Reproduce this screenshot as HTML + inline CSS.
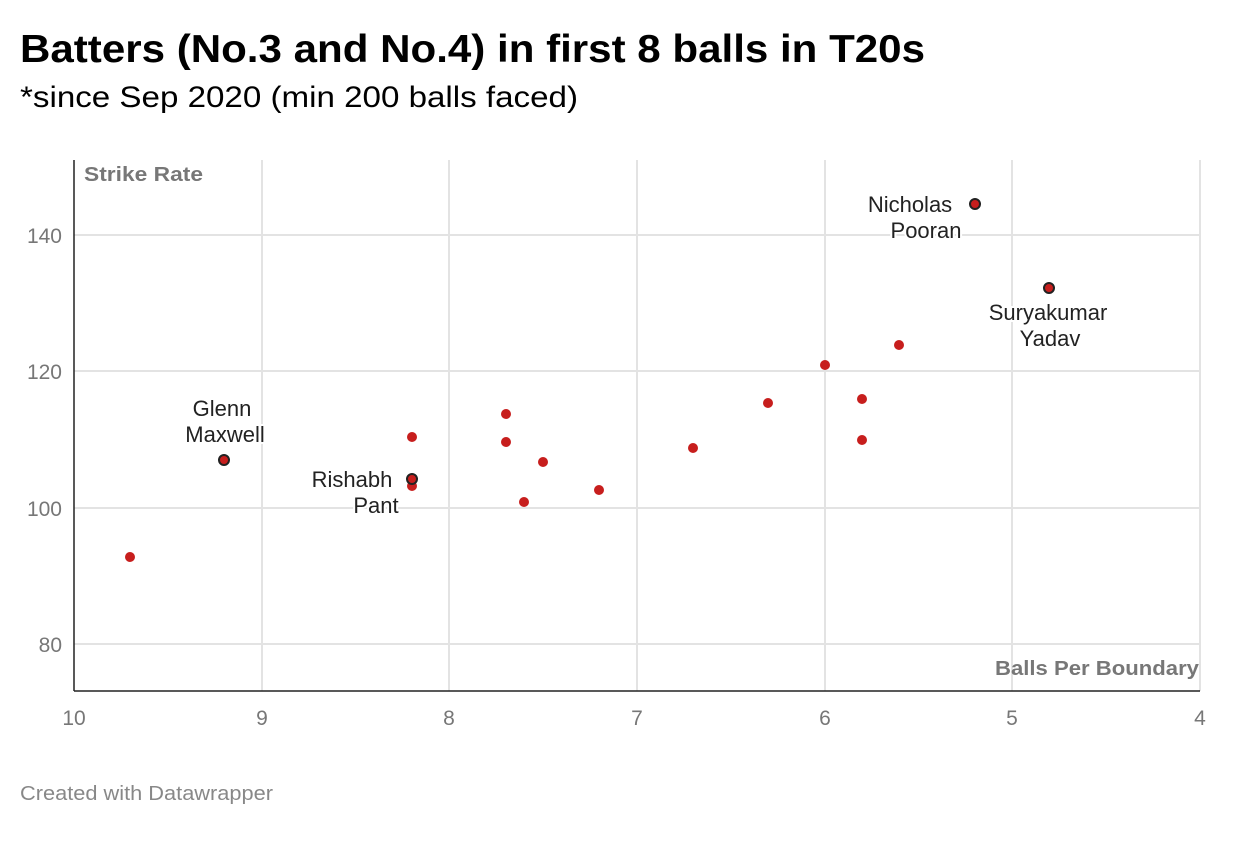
<!DOCTYPE html>
<html><head><meta charset="utf-8"><style>
body{margin:0;background:#fff;width:1240px;height:840px;overflow:hidden;font-family:"Liberation Sans",Roboto,sans-serif}
</style></head><body>
<svg width="1240" height="840" xmlns="http://www.w3.org/2000/svg" font-family="Liberation Sans, sans-serif">
<text x="20" y="62" font-size="39" font-weight="bold" fill="#000" textLength="905" lengthAdjust="spacingAndGlyphs">Batters (No.3 and No.4) in first 8 balls in T20s</text>
<text x="20" y="107" font-size="30" fill="#000" textLength="558" lengthAdjust="spacingAndGlyphs">*since Sep 2020 (min 200 balls faced)</text>
<g stroke="#e3e3e3" stroke-width="2">
<line x1="74" y1="235" x2="1200" y2="235"/><line x1="74" y1="371" x2="1200" y2="371"/>
<line x1="74" y1="508" x2="1200" y2="508"/><line x1="74" y1="644" x2="1200" y2="644"/>
<line x1="262" y1="160" x2="262" y2="691"/><line x1="449" y1="160" x2="449" y2="691"/>
<line x1="637" y1="160" x2="637" y2="691"/><line x1="825" y1="160" x2="825" y2="691"/>
<line x1="1012" y1="160" x2="1012" y2="691"/><line x1="1200" y1="160" x2="1200" y2="691"/>
</g>
<line x1="74" y1="160" x2="74" y2="691" stroke="#222" stroke-width="1.5"/>
<line x1="74" y1="691" x2="1200" y2="691" stroke="#222" stroke-width="1.5"/>
<g font-size="21" fill="#777" text-anchor="end">
<text x="62" y="243">140</text><text x="62" y="379">120</text><text x="62" y="516">100</text><text x="62" y="652">80</text>
</g>
<g font-size="21" fill="#777" text-anchor="middle">
<text x="74" y="725">10</text><text x="262" y="725">9</text><text x="449" y="725">8</text><text x="637" y="725">7</text><text x="825" y="725">6</text><text x="1012" y="725">5</text><text x="1200" y="725">4</text>
</g>
<text x="84" y="181" font-size="20" font-weight="bold" fill="#777" textLength="119" lengthAdjust="spacingAndGlyphs">Strike Rate</text>
<text x="995" y="675" font-size="20" font-weight="bold" fill="#777" textLength="204" lengthAdjust="spacingAndGlyphs">Balls Per Boundary</text>
<g fill="#c71e1d">
<circle cx="130" cy="557" r="5"/><circle cx="412" cy="437" r="5"/><circle cx="412" cy="486" r="5"/>
<circle cx="506" cy="414" r="5"/><circle cx="506" cy="442" r="5"/><circle cx="543" cy="462" r="5"/>
<circle cx="524" cy="502" r="5"/><circle cx="599" cy="490" r="5"/><circle cx="693" cy="448" r="5"/>
<circle cx="768" cy="403" r="5"/><circle cx="825" cy="365" r="5"/><circle cx="862" cy="399" r="5"/>
<circle cx="862" cy="440" r="5"/><circle cx="899" cy="345" r="5"/>
</g>
<g fill="#c71e1d" stroke="#222" stroke-width="2">
<circle cx="224" cy="460" r="5"/><circle cx="412" cy="479" r="5"/><circle cx="975" cy="204" r="5"/><circle cx="1049" cy="288" r="5"/>
</g>
<g font-size="22" fill="#222" text-anchor="middle" stroke="#fff" stroke-width="4" paint-order="stroke">
<text x="910" y="212">Nicholas</text><text x="926" y="238">Pooran</text>
<text x="1048" y="320">Suryakumar</text><text x="1050" y="346">Yadav</text>
<text x="222" y="416">Glenn</text><text x="225" y="442">Maxwell</text>
<text x="352" y="487">Rishabh</text><text x="376" y="513">Pant</text>
</g>
<text x="20" y="800" font-size="20" fill="#888" textLength="253" lengthAdjust="spacingAndGlyphs">Created with Datawrapper</text>
</svg>
</body></html>
